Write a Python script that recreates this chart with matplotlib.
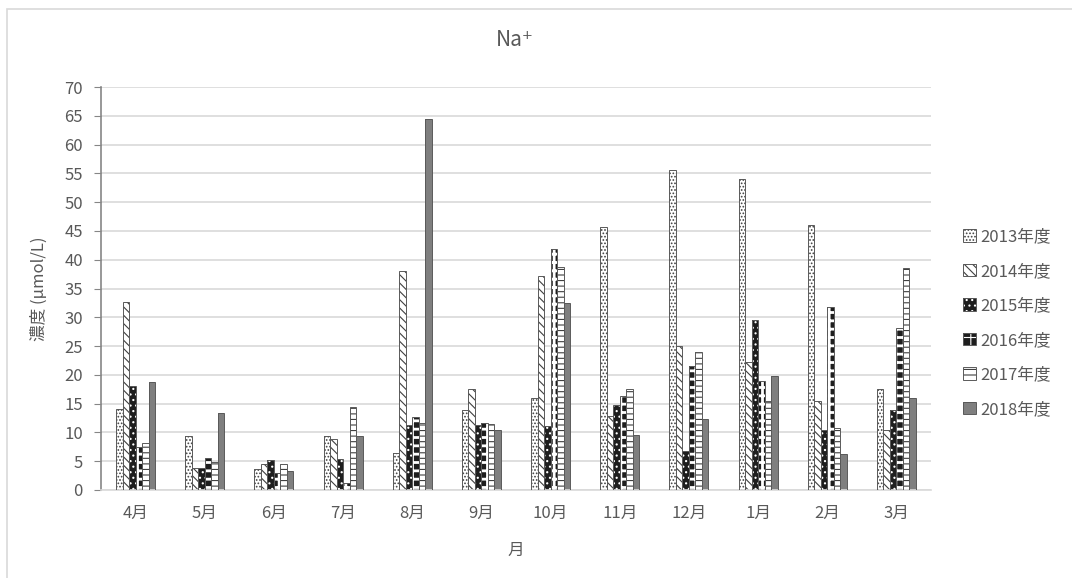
import numpy as np
import matplotlib
matplotlib.use('Agg')
import matplotlib.pyplot as plt
from matplotlib.patches import Patch, Rectangle

plt.rcParams['font.family'] = ['Noto Sans CJK JP', 'DejaVu Sans']
plt.rcParams['hatch.linewidth'] = 0.8

months = ['4月', '5月', '6月', '7月', '8月', '9月', '10月', '11月', '12月', '1月', '2月', '3月']
years = ['2013年度', '2014年度', '2015年度', '2016年度', '2017年度', '2018年度']

v2013 = [14.0, 9.4, 3.6, 9.4, 6.4, 13.9, 15.9, 45.6, 55.5, 54.1, 46.0, 17.5]
v2014 = [32.7, 3.8, 4.6, 8.8, 38.0, 17.6, 37.2, 12.8, 25.0, 22.2, 15.5, 10.5]
v2015 = [18.0, 3.9, 5.2, 5.4, 11.3, 11.3, 11.1, 14.7, 6.7, 29.5, 10.4, 13.9]
v2016 = [7.5, 5.5, 2.9, 1.3, 12.6, 11.6, 41.8, 16.3, 21.6, 18.9, 31.7, 28.1]
v2017 = [8.1, 4.9, 4.5, 14.4, 11.6, 11.4, 38.8, 17.6, 24.0, 15.4, 10.7, 38.6]
v2018 = [18.8, 13.3, 3.3, 9.4, 64.4, 10.4, 32.5, 9.5, 12.4, 19.8, 6.2, 15.9]
series = [v2013, v2014, v2015, v2016, v2017, v2018]

# face colour, hatch, hatch colour, hatch width
styles = [
    ('white', '.....', '#404040', 0.8),
    ('white', '\\\\\\\\', '#404040', 0.8),
    ('#1e1e1e', '...', 'white', 0.8),
    ('#1e1e1e', '++', 'white', 2.0),
    ('white', '---', '#404040', 0.8),
    ('#7f7f7f', '', '#7f7f7f', 0.8),
]
outline = '#595959'
txt = '#595959'


def hatch_width(patch, lw):
    if hasattr(patch, 'set_hatch_linewidth'):
        patch.set_hatch_linewidth(lw)


fig = plt.figure(figsize=(10.72, 5.78), dpi=100)
fig.patches.append(Rectangle((7 / 1072, -0.1), 1.2, 1 - 9 / 578 + 0.1, transform=fig.transFigure,
                             fill=False, edgecolor='#d9d9d9', linewidth=1.2))
ax = fig.add_axes([101 / 1072, 1 - 490 / 578, 830 / 1072, 403 / 578])

x = np.arange(len(months))
w = 0.094
handles = []
for i, vals in enumerate(series):
    fc, hatch, hc, hlw = styles[i]
    pos = x + (i - 2.5) * w
    bars = ax.bar(pos, vals, w, color=fc, edgecolor=hc, hatch=hatch, linewidth=0, zorder=2)
    for b in bars:
        hatch_width(b, hlw)
    ax.bar(pos, vals, w, fill=False, edgecolor=outline, linewidth=0.7, zorder=3)
    hp = Patch(facecolor=fc, edgecolor=hc, hatch=hatch, linewidth=0)
    hatch_width(hp, hlw)
    handles.append((hp, Patch(fill=False, edgecolor=outline, linewidth=0.7)))

ax.set_xlim(-0.5, len(months) - 0.5)
ax.set_ylim(0, 70)
ax.set_yticks(range(0, 71, 5))
ax.set_xticks(x)
ax.set_xticklabels(months)
ax.yaxis.grid(True, color='#d9d9d9', linewidth=1.2, zorder=0)
ax.set_axisbelow(True)
for s in ['top', 'right']:
    ax.spines[s].set_visible(False)
ax.spines['left'].set_color('#868686')
ax.spines['bottom'].set_color('#d9d9d9')
ax.spines['left'].set_linewidth(1.2)
ax.spines['bottom'].set_linewidth(1.2)
ax.tick_params(axis='y', length=5, color='#868686', labelsize=12, labelcolor=txt, pad=8)
ax.tick_params(axis='x', length=0, labelsize=12, labelcolor=txt, pad=11)

ax.set_ylabel('濃度 (µmol/L)', fontsize=12, color=txt, labelpad=12)
ax.set_xlabel('月', fontsize=12, color=txt, labelpad=14)
fig.text(515 / 1072, 1 - 40 / 578, 'Na⁺', fontsize=15, color=txt, ha='center', va='center')

fig.legend(handles, years, loc='center left', bbox_to_anchor=(948 / 1072, 1 - 323 / 578),
           frameon=False, fontsize=12, labelcolor=txt, handlelength=0.75, handleheight=0.75,
           handletextpad=0.3, labelspacing=1.05)

fig.savefig('out.png', dpi=100)
